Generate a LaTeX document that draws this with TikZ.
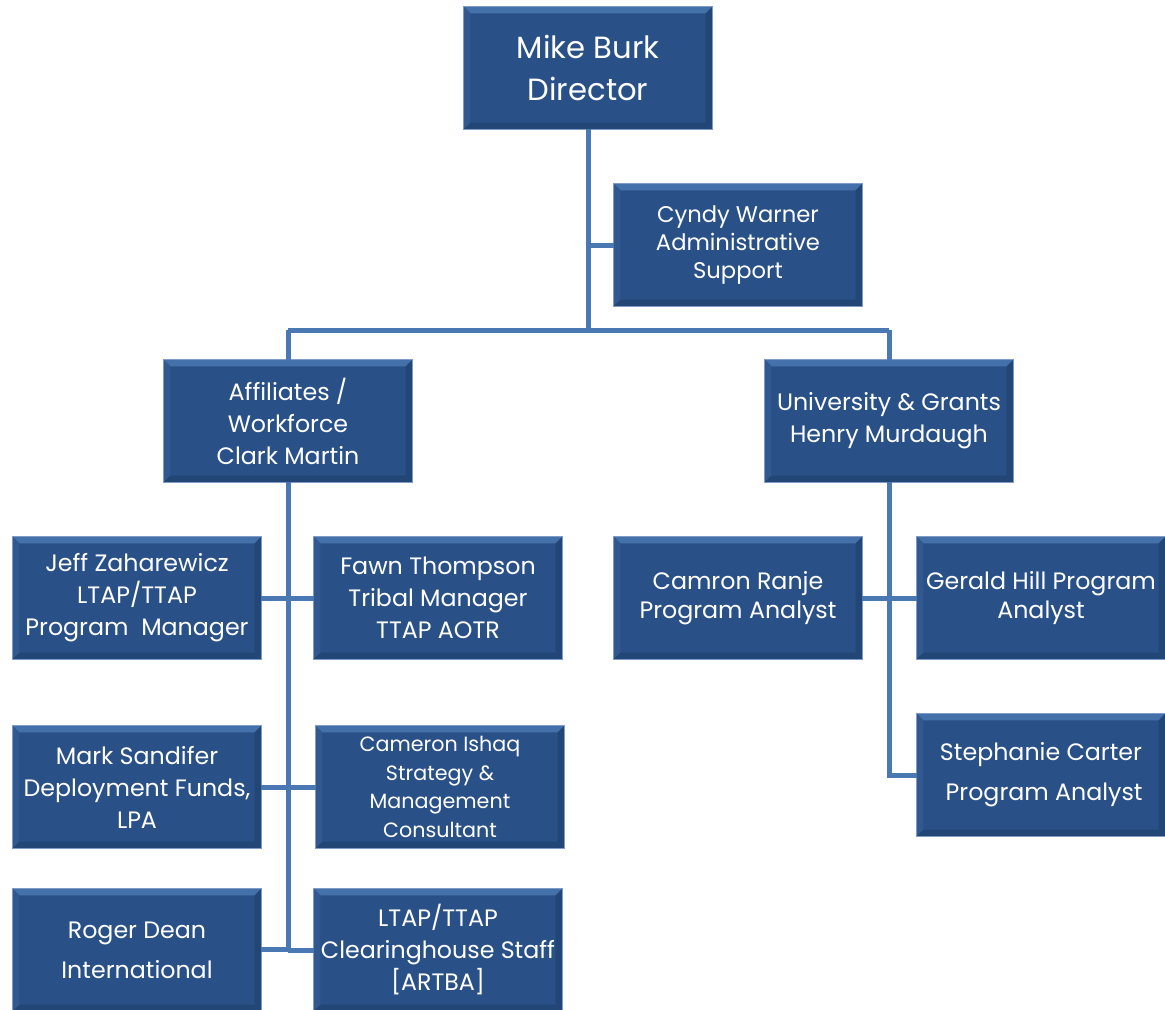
\documentclass[tikz,border=0pt]{standalone}
\usepackage{fontspec}
\setmainfont{Poppins}
\usepackage{tikz}

\definecolor{boxblue}{HTML}{2A5187}
\definecolor{boxedge}{HTML}{7E9CC6}
\definecolor{linkblue}{HTML}{4A78B2}
\definecolor{bevtop}{HTML}{4571AA}
\definecolor{bevleft}{HTML}{32598F}
\definecolor{bevdark}{HTML}{224675}

\begin{document}
\begin{tikzpicture}[x=0.75pt, y=-0.75pt, outer sep=0pt]

\tikzstyle{person}=[draw=boxedge, line width=0.8pt, fill=boxblue, rectangle, minimum width=186.5pt, minimum height=92pt, inner sep=1pt, text=white, align=center, font=\fontsize{17.8}{24}\selectfont,
  path picture={
    \coordinate (nw) at (path picture bounding box.north west);
    \coordinate (ne) at (path picture bounding box.north east);
    \coordinate (sw) at (path picture bounding box.south west);
    \coordinate (se) at (path picture bounding box.south east);
    \fill[bevtop] (nw) -- (ne) -- ([shift={(-5pt,-5pt)}]ne) -- ([shift={(5pt,-5pt)}]nw) -- cycle;
    \fill[bevleft] (nw) -- ([shift={(5pt,-5pt)}]nw) -- ([shift={(5pt,5pt)}]sw) -- (sw) -- cycle;
    \fill[bevdark] (ne) -- ([shift={(-5pt,-5pt)}]ne) -- ([shift={(-5pt,5pt)}]se) -- (se) -- cycle;
    \fill[bevdark] (sw) -- ([shift={(5pt,5pt)}]sw) -- ([shift={(-5pt,5pt)}]se) -- (se) -- cycle;
  }]
\tikzstyle{link}=[draw=linkblue, line width=3.75pt]

\useasboundingbox (0,0) rectangle (1165,1010);

\node[person, font=\fontsize{23}{31.5}\selectfont] (dir) at (588,68) {Mike Burk\\Director};
\node[person, font=\fontsize{17}{21}\selectfont] (cyndy) at (738,245) {Cyndy Warner\\Administrative\\Support};
\node[person] (aff) at (288,421) {Affiliates /\\Workforce\\Clark Martin};
\node[person] (univ) at (889,421) {University \& Grants\\Henry Murdaugh};

\node[person] (jeff) at (137,598) {Jeff Zaharewicz\\LTAP/TTAP\\Program\ \ Manager};
\node[person] (fawn) at (438,598) {Fawn Thompson\\Tribal Manager\\TTAP AOTR};
\node[person] (mark) at (137,787) {Mark Sandifer\\Deployment Funds,\\LPA};
\node[person, font=\fontsize{15.5}{21.5}\selectfont] (cam) at (440,787) {Cameron Ishaq\\Strategy \&\\Management\\Consultant};
\node[person, font=\fontsize{17.8}{30}\selectfont] (roger) at (137,950) {Roger Dean\\International};
\node[person] (ltap) at (438,950) {LTAP/TTAP\\Clearinghouse Staff\\{[ARTBA]}};

\node[person, font=\fontsize{17.8}{22}\selectfont] (camron) at (738,598) {Camron Ranje\\Program Analyst};
\node[person, font=\fontsize{17.8}{22}\selectfont] (gerald) at (1041,598) {Gerald Hill Program\\Analyst};
\node[person, font=\fontsize{17.8}{30}\selectfont] (steph) at (1041,775) {Stephanie Carter\\\ Program Analyst};

% junctions
\coordinate (top) at (588,330);
\coordinate (barl) at (288,330);
\coordinate (barr) at (889,330);
\coordinate (lend) at (288,949);
\coordinate (rend) at (889,775);

\draw[link] (dir.south) -- (top);
\draw[link] (cyndy.west) -- (cyndy.west -| top);
\draw[link] (barl) -- (barr);
\draw[link] (barl) -- (aff.north);
\draw[link] (barr) -- (univ.north);

\draw[link] (aff.south) -- (lend);
\draw[link] (jeff.east) -- (fawn.west);
\draw[link] (mark.east) -- (cam.west);
\draw[link] (roger.east |- lend) -- (lend);
\draw[link] (ltap.west) -- (ltap.west -| lend);

\draw[link] (univ.south) -- (rend) -- (steph.west);
\draw[link] (camron.east) -- (gerald.west);

\end{tikzpicture}
\end{document}
